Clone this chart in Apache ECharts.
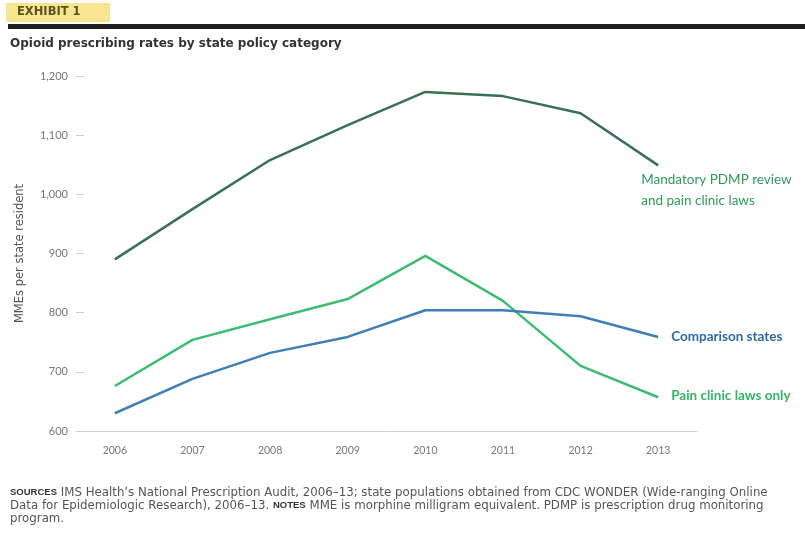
<!DOCTYPE html>
<html>
<head>
<meta charset="utf-8">
<script src="https://cdn.jsdelivr.net/npm/echarts@6/dist/echarts.min.js"></script>
<style>
  body { margin: 0; background: #fff; }
  #chart { width: 805px; height: 540px; }
</style>
</head>
<body>
<div id="chart"></div>
<script>
var years = ['2006', '2007', '2008', '2009', '2010', '2011', '2012', '2013'];
var mandatoryPdmp = [890, 975, 1058, 1117, 1173, 1166, 1137, 1049];
var painClinicOnly = [676, 754, 789, 823, 896, 820, 710, 657];
var comparisonStates = [630, 688, 732, 759, 804, 804, 794, 759];
var yTicks = [600, 700, 800, 900, 1000, 1100, 1200];

var chartDom = document.getElementById('chart');
var myChart = echarts.init(chartDom);
var font = 'Lato, "Open Sans", sans-serif';
var wide = '"DejaVu Sans", sans-serif';

var option = {
    animation: false,
    backgroundColor: '#fff',
    textStyle: { fontFamily: font },
    grid: { left: 76, right: 108, top: 76, bottom: 109 },
    graphic: [
        { type: 'rect', left: 6, top: 3, shape: { width: 104, height: 19 }, style: { fill: '#f7e68f' } },
        { type: 'text', left: 17, top: 6, style: { text: 'EXHIBIT 1', fill: '#5a5320', font: 'bold 11.5px ' + wide } },
        { type: 'rect', left: 8, top: 24, shape: { width: 797, height: 5 }, style: { fill: '#1e1e1e' } },
        { type: 'text', left: 10, top: 38, style: { text: 'Opioid prescribing rates by state policy category', fill: '#333', font: 'bold 12px ' + wide } },
        {
            type: 'text', left: 10, top: 486,
            style: {
                text: '{b|SOURCES} IMS Health\u2019s National Prescription Audit, 2006\u201313; state populations obtained from CDC WONDER (Wide-ranging Online\n' +
                      'Data for Epidemiologic Research), 2006\u201313. {b|NOTES} MME is morphine milligram equivalent. PDMP is prescription drug monitoring\n' +
                      'program.',
                fill: '#555', font: '11.8px ' + wide, lineHeight: 13,
                rich: { b: { fontWeight: 'bold', fontSize: 9.5, fill: '#333' } }
            }
        }
    ],
    xAxis: {
        type: 'category',
        data: years,
        axisLine: { lineStyle: { color: '#d0d0d0', width: 1 } },
        axisTick: { alignWithLabel: true, length: 5, lineStyle: { color: '#d0d0d0' } },
        axisLabel: { color: '#777', fontSize: 10.5, margin: 14 }
    },
    yAxis: {
        type: 'value',
        min: yTicks[0],
        max: yTicks[yTicks.length - 1],
        interval: 100,
        name: 'MMEs per state resident',
        nameLocation: 'middle',
        nameGap: 50,
        nameTextStyle: { color: '#555', fontSize: 11.5, fontFamily: wide },
        axisLine: { show: false },
        axisTick: { show: true, inside: true, length: 8, lineStyle: { color: '#d0d0d0' } },
        axisLabel: {
            color: '#777', fontSize: 11, margin: 8,
            formatter: function (v) { return v.toLocaleString('en-US'); }
        },
        splitLine: { show: false }
    },
    series: [
        {
            name: 'Mandatory PDMP review and pain clinic laws',
            type: 'line',
            data: mandatoryPdmp,
            symbol: 'none',
            lineStyle: { color: '#3a7058', width: 2.5 },
            endLabel: {
                show: true,
                formatter: 'Mandatory PDMP review\nand pain clinic laws',
                color: '#2f9a5c', fontSize: 13.5, lineHeight: 21, align: 'left',
                offset: [-25, 25]
            }
        },
        {
            name: 'Pain clinic laws only',
            type: 'line',
            data: painClinicOnly,
            symbol: 'none',
            lineStyle: { color: '#3dbd72', width: 2.5 },
            endLabel: {
                show: true, formatter: 'Pain clinic laws only',
                color: '#35b566', fontSize: 13.5, fontWeight: 'bold', offset: [5, -2]
            }
        },
        {
            name: 'Comparison states',
            type: 'line',
            data: comparisonStates,
            symbol: 'none',
            lineStyle: { color: '#3f7fb6', width: 2.5 },
            endLabel: {
                show: true, formatter: 'Comparison states',
                color: '#2f6aa5', fontSize: 13.5, fontWeight: 'bold', offset: [5, 0]
            }
        }
    ]
};

if (option && typeof option === 'object') {
    myChart.setOption(option);
}
</script>
</body>
</html>
